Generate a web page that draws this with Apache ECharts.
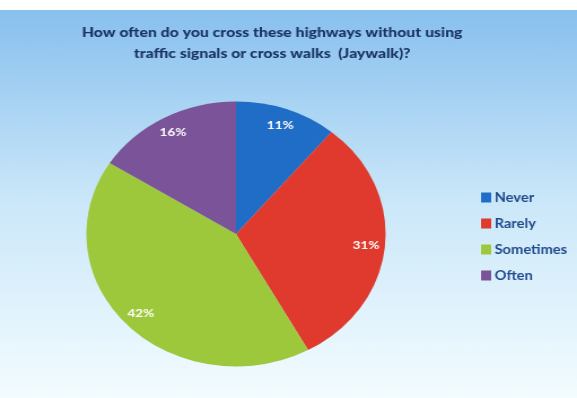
<!DOCTYPE html>
<html>
<head>
<meta charset="utf-8">
<script src="https://cdn.jsdelivr.net/npm/echarts@6/dist/echarts.min.js"></script>
<style>
html,body{margin:0;padding:0;background:#fff;overflow:hidden;}
#c{width:511px;height:398px;transform:scaleX(1.1292);transform-origin:0 0;}
</style>
</head>
<body>
<div id="c"></div>
<script>
const titleText = 'How often do you cross these highways without using\ntraffic signals or cross walks  (Jaywalk)?';
const categories = ['Never', 'Rarely', 'Sometimes', 'Often'];
const values = [11, 31, 42, 16];
const colors = ['#1f6dc6', '#e0392d', '#9dc83b', '#7a5399'];

const chart = echarts.init(document.getElementById('c'), null, {renderer: 'canvas'});
const pieData = categories.map((n, i) => ({name: n, value: values[i], itemStyle: {color: colors[i]}}));
const labelData = categories.map((n, i) => ({name: n, value: values[i]}));

chart.setOption({
  animation: false,
  backgroundColor: {
    type: 'linear', x: 0, y: 0, x2: 0, y2: 1,
    colorStops: [
      {offset: 0, color: '#ffffff'},
      {offset: 0.024, color: '#ffffff'},
      {offset: 0.026, color: '#88c0ee'},
      {offset: 0.5, color: '#cae7f9'},
      {offset: 1, color: '#f3fcff'}
    ]
  },
  title: {
    text: titleText,
    left: 236, top: 17, textAlign: 'center',
    textStyle: {fontFamily: 'Lato', fontWeight: 900, fontSize: 14, lineHeight: 21, color: '#1a3466'}
  },
  legend: {
    orient: 'vertical',
    left: 421, top: 186,
    itemWidth: 9, itemHeight: 10, itemGap: 13,
    icon: 'rect',
    selectedMode: false,
    textStyle: {fontFamily: 'Lato', fontWeight: 'bold', fontSize: 13, color: '#1f4a8c', padding: [0, 0, 0, -2]},
    data: categories.map((n, i) => ({name: n, itemStyle: {color: colors[i]}}))
  },
  series: [
    {
      type: 'pie',
      center: [209, 234],
      radius: 132.5,
      startAngle: 90,
      clockwise: true,
      silent: true,
      label: {show: false},
      labelLine: {show: false},
      emphasis: {disabled: true},
      data: pieData
    },
    {
      type: 'pie',
      center: [209, 234],
      radius: [93, 132.5],
      startAngle: 90,
      clockwise: true,
      silent: true,
      itemStyle: {color: 'rgba(0,0,0,0)'},
      label: {show: true, position: 'inside', formatter: '{c}%', color: '#ffffff', fontFamily: 'Lato', fontWeight: 'bold', fontSize: 12},
      labelLine: {show: false},
      emphasis: {disabled: true},
      data: labelData
    }
  ]
});
</script>
</body>
</html>
